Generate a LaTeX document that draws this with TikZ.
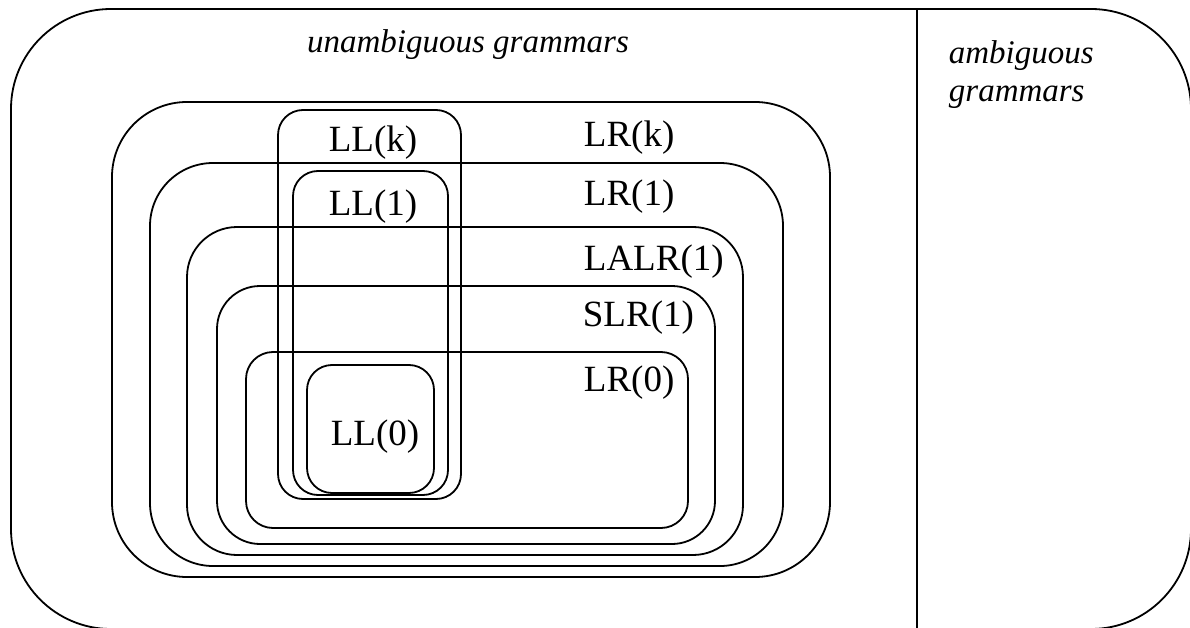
\documentclass[tikz,border=0pt]{standalone}
\usepackage{fontspec}
\setmainfont{Liberation Serif}
\begin{document}
\begin{tikzpicture}[x=1pt,y=-1pt,
  line width=1.8pt,
  setbox/.style={draw=black,line width=1.8pt},
  biglabel/.style={font=\fontsize{37}{44}\selectfont,inner sep=0pt},
  itlabel/.style={font=\fontsize{33}{38}\selectfont\itshape,inner sep=0pt,align=left}]
\useasboundingbox (0,0) rectangle (1190,628);
% outer region
\draw[setbox,rounded corners=100pt] (11,9) rectangle (1191,629);
\coordinate (divtop) at (917,9);
\coordinate (divbot) at (917,629);
\draw[setbox] (divtop) -- (divbot);
% LR family
\draw[setbox,rounded corners=75pt] (112,102) rectangle (830,577);
\draw[setbox,rounded corners=63pt] (150,163) rectangle (783,566);
\draw[setbox,rounded corners=50pt] (187,227) rectangle (743,555);
\draw[setbox,rounded corners=43pt] (217,286) rectangle (715,544);
\draw[setbox,rounded corners=27pt] (246,352) rectangle (688,528);
% LL family
\draw[setbox,rounded corners=25pt] (278,110) rectangle (461,499);
\draw[setbox,rounded corners=25pt] (293,171) rectangle (448,495);
\draw[setbox,rounded corners=25pt] (307,365) rectangle (434,493);
% labels
\node[itlabel] (unamb) at (468,45) {unambiguous grammars};
\node[itlabel,anchor=north west] (amb) at (948,40) {ambiguous\\grammars};
\node[biglabel] (llk) at (373,143) {LL(k)};
\node[biglabel] (ll1) at (373,207) {LL(1)};
\node[biglabel] (ll0) at (375,437) {LL(0)};
\node[biglabel,anchor=west] (lrk) at (583,138) {LR(k)};
\node[biglabel,anchor=west] (lr1) at (583,197) {LR(1)};
\node[biglabel,anchor=west] (lalr) at (583,262) {LALR(1)};
\node[biglabel,anchor=west] (slr) at (582,318) {SLR(1)};
\node[biglabel,anchor=west] (lr0) at (583,383) {LR(0)};
\end{tikzpicture}
\end{document}
